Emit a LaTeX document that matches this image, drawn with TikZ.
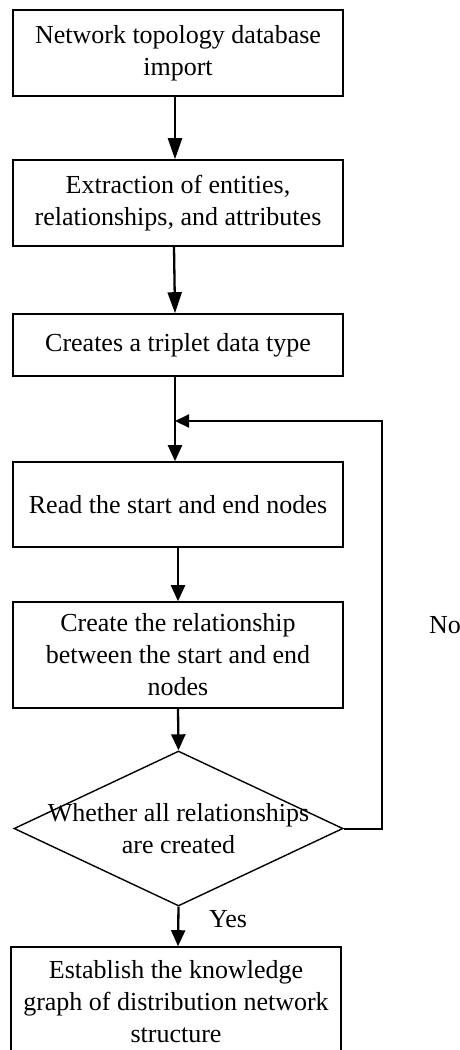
\documentclass[tikz,border=0pt]{standalone}
\usepackage{fontspec}
\setmainfont{Liberation Serif}
\usetikzlibrary{arrows.meta,shapes.geometric,calc}
\begin{document}
\begin{tikzpicture}[x=1pt,y=-1pt,
  every node/.style={font=\fontsize{26pt}{32pt}\selectfont},
  procbox/.style={draw,line width=1.6pt,minimum width=330pt,inner sep=0pt,align=center},
  decision/.style={draw,diamond,line width=1.4pt,minimum width=329pt,minimum height=155pt,inner sep=0pt},
  flow/.style={line width=2.3pt,-{Triangle[length=16pt,width=14pt]}},
  longflow/.style={line width=2.3pt,-{Triangle[length=21pt,width=14pt]}},
  loopline/.style={line width=2pt,-{Triangle[length=14pt,width=13pt]}},
  lbl/.style={inner sep=0pt}]
\useasboundingbox (0,0) rectangle (460,1050);
\clip (0,0) rectangle (460,1050);
\node[procbox,minimum height=86pt] (b1) at (178,53) {Network topology database\\import};
\node[procbox,minimum height=86pt] (b2) at (178,203) {Extraction of entities,\\relationships, and attributes};
\node[procbox,minimum height=62pt] (b3) at (178,345) {Creates a triplet data type};
\node[procbox,minimum height=85pt] (b4) at (178,504.5) {Read the start and end nodes};
\node[procbox,minimum height=106pt] (b5) at (178,655) {Create the relationship\\between the start and end\\nodes};
\node[decision,label={[align=center,inner sep=0pt]center:Whether all relationships\\are created}] (d) at (178.5,828.5) {};
\node[procbox,minimum height=109pt] (b6) at (176,1001.5) {Establish the knowledge\\graph of distribution network\\structure};
\node[lbl] (no) at (445,625) {No};
\node[lbl] (yes) at (228,919) {Yes};
\coordinate (j) at (175,421);
\draw[longflow] ($(b1.south)+(-3,0)$) -- ($(b2.north)+(-3,0)$);
\draw[longflow] ($(b2.south)+(-4,0)$) -- ($(b3.north)+(-3,0)$);
\draw[flow] ($(b3.south)+(-3,0)$) -- ($(b4.north)+(-3,0)$);
\draw[flow] (b4.south) -- (b5.north);
\draw[flow] (b5.south) -- (d.north);
\draw[flow] (d.south) -- ($(b6.north)+(2,0)$);
\draw[loopline] (d.east) -- ++(38,0) |- (j);
\end{tikzpicture}
\end{document}
